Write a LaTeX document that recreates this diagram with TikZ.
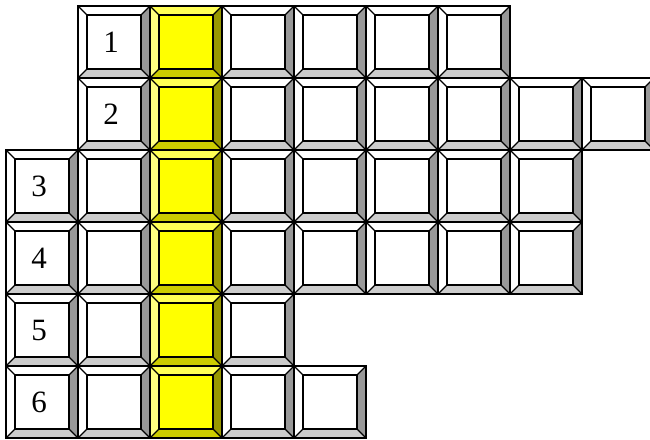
\documentclass[tikz,border=0pt]{standalone}
\usepackage{fontspec}
\setmainfont{Liberation Serif}
\usepackage{tikz}

\definecolor{wface}{HTML}{FFFFFF}
\definecolor{wtop}{HTML}{FFFFFF}
\definecolor{wleft}{HTML}{FFFFFF}
\definecolor{wright}{HTML}{999999}
\definecolor{wbot}{HTML}{CCCCCC}
\definecolor{yface}{HTML}{FFFF00}
\definecolor{ytop}{HTML}{FFFF55}
\definecolor{yleft}{HTML}{FFFF80}
\definecolor{yright}{HTML}{999900}
\definecolor{ybot}{HTML}{CCCC00}

\begin{document}
\begin{tikzpicture}[
  x=1pt,y=-1pt,
  line width=1.3pt,line join=miter,
  num/.style={anchor=base,inner sep=0pt,font=\fontsize{31}{31}\selectfont},
  pics/cell/.style={code={
    \fill[#1top] (0,0) -- (72,0) -- (63,9) -- (9,9) -- cycle;
    \fill[#1left] (0,0) -- (9,9) -- (9,63) -- (0,72) -- cycle;
    \fill[#1right] (72,0) -- (72,72) -- (63,63) -- (63,9) -- cycle;
    \fill[#1bot] (0,72) -- (9,63) -- (63,63) -- (72,72) -- cycle;
    \filldraw[fill=#1face] (9,9) rectangle (63,63);
    \draw (0,0) rectangle (72,72);
    \draw (0,0) -- (9,9) (72,0) -- (63,9) (72,72) -- (63,63) (0,72) -- (9,63);
  }}
]
\useasboundingbox (0,0) rectangle (650,439);
\clip (0,0) rectangle (650,439);

% white keys, row by row
\foreach \r/\first/\last in {1/1/6, 2/1/8, 3/0/7, 4/0/7, 5/0/3, 6/0/4}
  \foreach \c in {\first,...,\last}
    \pic at ({6+72*\c},{6+72*(\r-1)}) {cell=w};

% the yellow column
\foreach \r in {1,...,6}
  \pic at (150,{6+72*(\r-1)}) {cell=y};

% row numbers
\node[num] (n1) at (111,52) {1};
\node[num] (n2) at (111,124) {2};
\node[num] (n3) at (39,196) {3};
\node[num] (n4) at (39,268) {4};
\node[num] (n5) at (39,340) {5};
\node[num] (n6) at (39,412) {6};
\end{tikzpicture}
\end{document}
